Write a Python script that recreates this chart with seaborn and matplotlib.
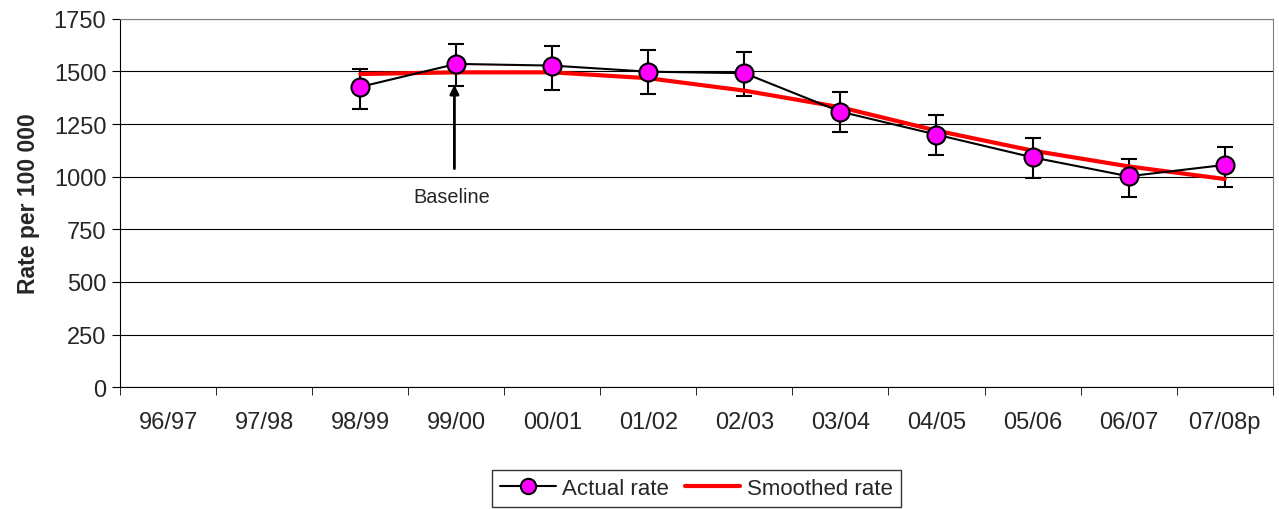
import numpy as np
import pandas as pd
import matplotlib.pyplot as plt
from matplotlib.ticker import FixedLocator
import seaborn as sns

years = ["96/97", "97/98", "98/99", "99/00", "00/01", "01/02",
         "02/03", "03/04", "04/05", "05/06", "06/07", "07/08p"]
actual = [np.nan, np.nan, 1427, 1536, 1528, 1499, 1492, 1309, 1200, 1092, 1002, 1056]
lower = [np.nan, np.nan, 1322, 1431, 1414, 1393, 1385, 1214, 1105, 994, 905, 950]
upper = [np.nan, np.nan, 1512, 1631, 1623, 1602, 1594, 1404, 1295, 1184, 1084, 1140]
smoothed = [np.nan, np.nan, 1488, 1496, 1496, 1468, 1409, 1330, 1219, 1124, 1049, 989]

df = pd.DataFrame({"year": years, "actual": actual, "lower": lower,
                   "upper": upper, "smoothed": smoothed})
df["pos"] = np.arange(len(years))

sns.set_style("white")
plt.rcParams["font.family"] = ["Liberation Sans", "DejaVu Sans"]

fig = plt.figure(figsize=(12.79, 5.10), dpi=100)
ax = fig.add_axes([0.094, 0.239, 0.901, 0.722])

ax.yaxis.grid(True, color="black", linewidth=0.8)
ax.set_axisbelow(True)

d = df.dropna()
ax.errorbar(d["pos"], d["actual"],
            yerr=[d["actual"] - d["lower"], d["upper"] - d["actual"]],
            fmt="none", ecolor="black", elinewidth=1.5, capsize=5.5, capthick=1.5, zorder=3)
sns.lineplot(data=d, x="pos", y="actual", ax=ax, color="black", linewidth=1.5,
             marker="o", markersize=13, markerfacecolor="#ff00ff",
             markeredgecolor="black", markeredgewidth=1.5, label="Actual rate", zorder=4)
sns.lineplot(data=d, x="pos", y="smoothed", ax=ax, color="#ff0000", linewidth=3,
             label="Smoothed rate", zorder=5)
# keep markers above the red line
for ln in ax.lines:
    if ln.get_label() == "Actual rate":
        ln.set_zorder(6)

ax.annotate("", xy=(2.98, 1450), xytext=(2.98, 1025),
            arrowprops=dict(arrowstyle="-|>", color="black", lw=2, mutation_scale=13))
ax.text(2.95, 905, "Baseline", ha="center", va="center", fontsize=14.3)

ax.set_xlim(-0.5, len(years) - 0.5)
ax.set_ylim(0, 1750)
ax.set_yticks(np.arange(0, 1751, 250))
ax.set_xticks(df["pos"])
ax.set_xticklabels(years)
ax.xaxis.set_minor_locator(FixedLocator(np.arange(-0.5, len(years), 1)))
ax.tick_params(axis="x", which="major", length=0, labelsize=17, pad=17)
ax.tick_params(axis="x", which="minor", length=6, direction="out", color="black", bottom=True)
ax.tick_params(axis="y", length=6, direction="out", color="black", labelsize=17, left=True, pad=4)
ax.set_xlabel("")
ax.set_ylabel("Rate per 100 000", fontsize=16.5, fontweight="bold", labelpad=10)

for side in ["left", "bottom"]:
    ax.spines[side].set_color("black")
for side in ["top", "right"]:
    ax.spines[side].set_color("#808080")

leg = ax.legend(loc="upper center", bbox_to_anchor=(0.5, -0.196), ncol=2,
                frameon=True, fancybox=False, edgecolor="black", fontsize=16,
                handlelength=2.5, columnspacing=0.7, handletextpad=0.3, borderpad=0.35)
leg.get_frame().set_linewidth(1.0)
for h in leg.legend_handles:
    if h.get_label() == "Actual rate":
        h.set_markersize(11)

fig.savefig("out.png", dpi=100, facecolor="white")
